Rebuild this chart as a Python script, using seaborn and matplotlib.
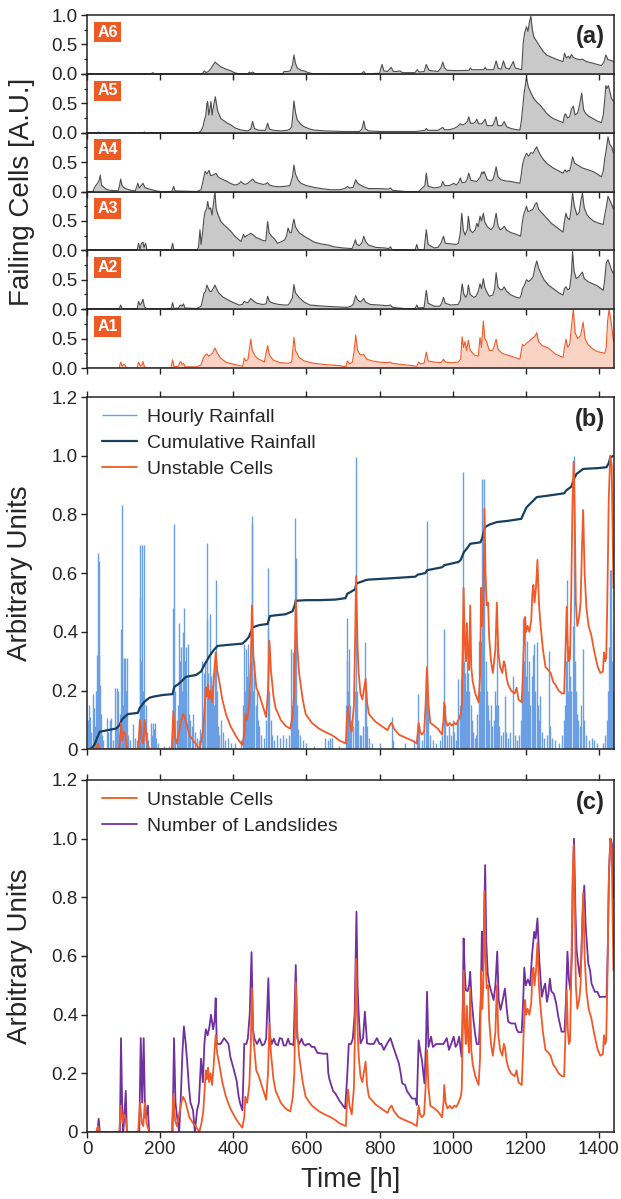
import pandas as pd
import matplotlib
matplotlib.use("Agg")
import matplotlib.pyplot as plt
import seaborn as sns

sns.set_theme(style="ticks")
plt.rcParams['font.family'] = ['Liberation Sans', 'DejaVu Sans']

# ---- data: (time [h], value) ----
a6_pts = [(0,0),(175,0),(180,0.02),(185,0),(315,0),(321,0.05),(326,0.02),(334,0.05),(340,0.1),(350,0.2),(358,0.16),(366,0.12),(380,0.08),(394,0.05),(403,0.02),(415,0),(440,0),(444,0.03),(448,0.01),(453,0.03),(460,0),(535,0),(539,0.04),(548,0.04),(556,0.05),(562,0.15),(566,0.32),(570,0.18),(575,0.1),(585,0.06),(594,0.05),(605,0.02),(616,0.005),(750,0),(757,0.04),(762,0),(800,0.01),(807,0.16),(812,0.05),(822,0.04),(832,0.11),(838,0.04),(847,0.04),(857,0.05),(862,0.02),(897,0.02),(903,0.07),(909,0.03),(922,0.04),(928,0.16),(935,0.06),(945,0.05),(960,0.04),(968,0.1),(973,0.2),(978,0.1),(985,0.06),(1003,0.056),(1020,0.055),(1045,0.06),(1048,0.1),(1053,0.07),(1085,0.07),(1089,0.11),(1093,0.07),(1112,0.07),(1119,0.22),(1125,0.09),(1133,0.08),(1139,0.22),(1145,0.1),(1155,0.08),(1166,0.21),(1171,0.1),(1189,0.07),(1193,0.52),(1197,0.7),(1202,0.8),(1206,0.72),(1210,0.88),(1214,0.98),(1218,0.75),(1222,0.63),(1230,0.55),(1239,0.46),(1248,0.38),(1257,0.32),(1275,0.27),(1295,0.22),(1302,0.21),(1306,0.35),(1311,0.27),(1317,0.3),(1321,0.26),(1325,0.33),(1330,0.28),(1340,0.25),(1350,0.24),(1355,0.25),(1365,0.21),(1384,0.18),(1407,0.14),(1414,0.2),(1419,0.32),(1425,0.24),(1432,0.23),(1440,0.21)]

a5_pts = [(0,0),(27,0),(30,0.01),(34,0),(153,0),(157,0.01),(161,0),(305,0),(312,0.03),(317,0.1),(321,0.21),(325,0.3),(328,0.5),(330,0.53),(333,0.3),(336,0.4),(339,0.53),(342,0.3),(346,0.45),(349,0.55),(351,0.61),(354,0.5),(357,0.38),(366,0.24),(375,0.2),(384,0.16),(394,0.13),(405,0.08),(421,0.045),(440,0.03),(448,0.06),(453,0.19),(458,0.07),(470,0.04),(488,0.04),(494,0.16),(499,0.06),(510,0.04),(530,0.03),(548,0.04),(555,0.06),(560,0.1),(566,0.54),(570,0.35),(575,0.22),(585,0.14),(594,0.1),(610,0.06),(621,0.045),(650,0.03),(700,0.02),(745,0.02),(752,0.06),(757,0.2),(761,0.07),(770,0.03),(800,0.02),(900,0.02),(924,0.04),(928,0.07),(932,0.04),(960,0.04),(973,0.09),(978,0.05),(990,0.05),(1003,0.07),(1012,0.1),(1021,0.15),(1028,0.13),(1036,0.16),(1041,0.2),(1044,0.27),(1049,0.16),(1057,0.16),(1062,0.18),(1066,0.23),(1071,0.15),(1080,0.15),(1086,0.2),(1089,0.23),(1094,0.12),(1110,0.12),(1115,0.2),(1119,0.27),(1124,0.12),(1135,0.12),(1141,0.19),(1148,0.1),(1160,0.07),(1175,0.05),(1184,0.045),(1188,0.2),(1191,0.39),(1196,0.7),(1202,0.93),(1207,0.78),(1214,0.68),(1221,0.59),(1230,0.52),(1239,0.47),(1248,0.4),(1257,0.33),(1266,0.28),(1275,0.24),(1290,0.2),(1302,0.17),(1306,0.3),(1309,0.32),(1314,0.25),(1320,0.27),(1325,0.4),(1330,0.45),(1335,0.3),(1342,0.33),(1348,0.5),(1353,0.67),(1358,0.4),(1362,0.34),(1372,0.28),(1384,0.24),(1395,0.2),(1407,0.17),(1412,0.3),(1416,0.55),(1419,0.8),(1422,0.75),(1426,0.8),(1430,0.7),(1434,0.59),(1440,0.53)]

a4_pts = [(0,0),(16,0),(20,0.06),(25,0.11),(30,0.15),(34,0.2),(36,0.28),(40,0.1),(45,0.08),(50,0.05),(55,0.03),(65,0.02),(85,0.01),(89,0.1),(92,0.21),(96,0.1),(102,0.06),(110,0.04),(120,0.02),(132,0.01),(136,0.08),(139,0.14),(143,0.06),(148,0.1),(153,0.14),(158,0.07),(165,0.05),(178,0.03),(190,0.01),(200,0),(232,0),(237,0.085),(241,0.01),(300,0),(312,0.03),(318,0.2),(323,0.34),(328,0.3),(334,0.36),(338,0.27),(345,0.28),(353,0.31),(358,0.25),(366,0.22),(380,0.18),(392,0.14),(403,0.11),(412,0.12),(417,0.14),(421,0.17),(426,0.14),(432,0.12),(440,0.14),(447,0.18),(453,0.21),(460,0.16),(470,0.14),(482,0.12),(489,0.13),(494,0.15),(499,0.11),(510,0.09),(525,0.08),(545,0.09),(555,0.1),(562,0.25),(566,0.45),(570,0.3),(577,0.2),(585,0.14),(600,0.1),(621,0.07),(640,0.05),(665,0.03),(690,0.03),(705,0.05),(712,0.085),(718,0.06),(728,0.07),(735,0.2),(740,0.14),(748,0.11),(757,0.08),(770,0.05),(800,0.05),(825,0.04),(830,0.06),(836,0.02),(870,0.0),(907,0.0),(924,0.1),(928,0.31),(933,0.09),(950,0.06),(968,0.08),(973,0.17),(978,0.1),(990,0.1),(998,0.12),(1003,0.14),(1010,0.11),(1016,0.15),(1021,0.23),(1026,0.15),(1035,0.16),(1040,0.21),(1044,0.31),(1050,0.19),(1058,0.18),(1066,0.17),(1075,0.24),(1078,0.3),(1080,0.33),(1083,0.3),(1086,0.34),(1090,0.28),(1095,0.2),(1103,0.18),(1110,0.2),(1115,0.3),(1119,0.42),(1124,0.25),(1132,0.2),(1145,0.18),(1160,0.17),(1175,0.15),(1184,0.14),(1188,0.3),(1191,0.45),(1195,0.55),(1202,0.65),(1208,0.6),(1214,0.66),(1220,0.65),(1226,0.72),(1230,0.76),(1235,0.68),(1242,0.6),(1250,0.53),(1257,0.48),(1266,0.44),(1275,0.4),(1290,0.35),(1302,0.31),(1307,0.37),(1312,0.33),(1316,0.36),(1320,0.35),(1324,0.45),(1328,0.59),(1334,0.48),(1342,0.45),(1355,0.4),(1370,0.37),(1384,0.34),(1395,0.3),(1407,0.25),(1412,0.35),(1416,0.56),(1420,0.7),(1425,0.93),(1430,0.8),(1435,0.76),(1440,0.65)]

a3_pts = [(0,0),(137,0),(141,0.12),(145,0.02),(149,0.12),(153,0.14),(156,0.05),(160,0.12),(164,0.01),(230,0),(234,0.12),(238,0),(300,0),(305,0.05),(309,0.35),(312,0.1),(316,0.3),(320,0.55),(323,0.66),(327,0.7),(330,0.83),(334,0.7),(338,0.72),(342,0.6),(346,0.8),(350,1.0),(353,0.72),(357,0.63),(366,0.49),(375,0.43),(384,0.38),(394,0.32),(403,0.25),(412,0.2),(421,0.15),(425,0.22),(428,0.27),(432,0.22),(437,0.25),(443,0.27),(448,0.29),(455,0.26),(462,0.22),(470,0.2),(480,0.17),(489,0.16),(494,0.49),(498,0.3),(505,0.24),(512,0.2),(521,0.12),(533,0.15),(541,0.18),(546,0.25),(550,0.38),(555,0.3),(559,0.3),(563,0.45),(566,0.53),(570,0.4),(580,0.3),(594,0.24),(605,0.2),(621,0.14),(640,0.11),(660,0.09),(675,0.06),(700,0.04),(725,0.03),(730,0.1),(734,0.18),(738,0.1),(745,0.08),(752,0.13),(757,0.24),(762,0.15),(770,0.09),(790,0.05),(815,0.04),(825,0.03),(830,0.06),(835,0),(897,0),(902,0.1),(906,0.01),(922,0.01),(928,0.35),(933,0.1),(950,0.04),(960,0.05),(968,0.12),(975,0.24),(980,0.12),(995,0.11),(1010,0.1),(1016,0.12),(1021,0.3),(1025,0.63),(1029,0.35),(1034,0.26),(1040,0.35),(1043,0.58),(1048,0.34),(1055,0.3),(1062,0.35),(1066,0.46),(1070,0.4),(1075,0.58),(1079,0.5),(1084,0.63),(1088,0.48),(1095,0.4),(1105,0.35),(1112,0.4),(1119,0.63),(1124,0.42),(1130,0.35),(1136,0.37),(1141,0.41),(1148,0.34),(1160,0.3),(1175,0.27),(1186,0.24),(1190,0.45),(1194,0.6),(1202,0.75),(1206,0.66),(1212,0.67),(1220,0.7),(1225,0.78),(1230,0.81),(1235,0.7),(1245,0.63),(1257,0.55),(1270,0.46),(1285,0.39),(1302,0.31),(1306,0.5),(1310,0.63),(1314,0.55),(1320,0.52),(1324,0.7),(1328,0.97),(1333,0.75),(1340,0.6),(1346,0.64),(1351,0.85),(1355,0.97),(1360,0.72),(1368,0.6),(1375,0.55),(1385,0.5),(1400,0.46),(1412,0.44),(1416,0.6),(1420,0.72),(1425,0.92),(1430,0.85),(1435,0.78),(1440,0.7)]

a2_pts = [(0,0),(27,0),(30,0.01),(34,0),(88,0),(92,0.07),(96,0.01),(137,0),(141,0.13),(145,0.07),(149,0.1),(153,0.17),(157,0.04),(163,0.01),(230,0),(234,0.11),(238,0.01),(250,0.02),(254,0.06),(257,0.07),(260,0.05),(264,0.09),(268,0.02),(300,0.01),(312,0.05),(316,0.15),(320,0.27),(324,0.3),(328,0.41),(332,0.35),(336,0.3),(340,0.3),(346,0.36),(350,0.41),(354,0.35),(360,0.28),(371,0.21),(382,0.17),(394,0.13),(405,0.1),(416,0.07),(425,0.08),(430,0.13),(435,0.12),(440,0.11),(448,0.18),(455,0.14),(465,0.1),(480,0.08),(490,0.09),(494,0.22),(499,0.13),(510,0.1),(525,0.08),(540,0.07),(550,0.07),(556,0.12),(562,0.2),(566,0.42),(570,0.28),(580,0.2),(594,0.12),(610,0.07),(630,0.06),(650,0.05),(680,0.04),(712,0.03),(722,0.05),(728,0.08),(735,0.23),(740,0.16),(748,0.12),(757,0.18),(762,0.12),(775,0.08),(800,0.07),(820,0.06),(830,0.07),(836,0.03),(870,0.01),(897,0),(902,0.07),(906,0.02),(922,0.03),(928,0.32),(933,0.1),(950,0.05),(965,0.05),(970,0.1),(975,0.2),(980,0.1),(995,0.07),(1015,0.08),(1021,0.15),(1026,0.43),(1031,0.25),(1036,0.2),(1040,0.25),(1043,0.41),(1048,0.25),(1058,0.2),(1064,0.22),(1070,0.3),(1075,0.43),(1079,0.35),(1084,0.52),(1088,0.37),(1093,0.3),(1100,0.22),(1110,0.24),(1115,0.35),(1119,0.62),(1124,0.38),(1130,0.33),(1136,0.33),(1141,0.38),(1148,0.3),(1160,0.24),(1175,0.2),(1184,0.19),(1188,0.25),(1191,0.35),(1196,0.4),(1202,0.5),(1208,0.47),(1214,0.5),(1220,0.55),(1226,0.73),(1230,0.82),(1235,0.7),(1242,0.6),(1250,0.5),(1262,0.41),(1275,0.35),(1290,0.28),(1302,0.24),(1306,0.35),(1310,0.38),(1315,0.33),(1320,0.35),(1325,0.6),(1328,0.98),(1332,0.65),(1338,0.52),(1345,0.55),(1351,0.6),(1355,0.63),(1360,0.52),(1370,0.47),(1380,0.44),(1395,0.4),(1412,0.32),(1416,0.5),(1420,0.78),(1425,0.84),(1430,0.75),(1435,0.66),(1440,0.6)]

a1_pts = [(0,0),(88,0),(92,0.1),(96,0.03),(100,0.06),(104,0.05),(108,0),(137,0),(141,0.1),(146,0.03),(150,0.05),(153,0.11),(157,0.02),(163,0),(230,0),(234,0.14),(238,0.02),(250,0.03),(254,0.1),(257,0.11),(260,0.06),(264,0.08),(268,0.02),(300,0.02),(312,0.05),(317,0.15),(323,0.22),(328,0.24),(333,0.2),(338,0.22),(343,0.25),(350,0.34),(355,0.27),(365,0.17),(380,0.1),(403,0.06),(426,0.03),(430,0.17),(434,0.12),(440,0.14),(448,0.49),(452,0.3),(460,0.2),(470,0.15),(485,0.1),(494,0.38),(499,0.22),(510,0.13),(530,0.09),(550,0.08),(560,0.1),(566,0.52),(570,0.3),(580,0.18),(594,0.12),(620,0.08),(650,0.06),(690,0.04),(708,0.02),(712,0.12),(718,0.07),(726,0.1),(731,0.3),(735,0.56),(740,0.3),(748,0.22),(757,0.23),(765,0.15),(780,0.12),(800,0.1),(820,0.09),(830,0.1),(835,0.08),(860,0.06),(890,0.04),(902,0.03),(907,0.1),(912,0.07),(922,0.08),(928,0.27),(933,0.12),(950,0.1),(968,0.09),(975,0.15),(980,0.1),(1000,0.09),(1015,0.1),(1022,0.15),(1026,0.53),(1030,0.35),(1034,0.45),(1038,0.3),(1043,0.47),(1048,0.3),(1060,0.22),(1070,0.2),(1075,0.52),(1079,0.35),(1084,0.8),(1088,0.5),(1093,0.45),(1100,0.3),(1110,0.3),(1119,0.49),(1124,0.32),(1135,0.25),(1150,0.22),(1170,0.18),(1184,0.15),(1188,0.3),(1191,0.4),(1196,0.38),(1202,0.42),(1208,0.45),(1214,0.48),(1221,0.52),(1226,0.55),(1230,0.6),(1235,0.45),(1245,0.38),(1262,0.34),(1280,0.24),(1302,0.18),(1306,0.35),(1310,0.49),(1315,0.35),(1320,0.4),(1325,0.7),(1330,1.0),(1335,0.6),(1342,0.5),(1350,0.55),(1357,0.78),(1362,0.5),(1370,0.4),(1380,0.34),(1395,0.28),(1410,0.26),(1416,0.25),(1420,0.35),(1424,0.8),(1428,1.0),(1433,0.8),(1437,0.6),(1440,0.45)]

hourly_rain = [(2,0.1),(5,0.15),(8,0.11),(12,0.06),(16,0.19),(19,0.14),(22,0.08),(25,0.2),(27,0.32),(29,0.32),(30,0.667),(32,0.64),(34,0.32),(36,0.22),(38,0.12),(41,0.05),(45,0.03),(54,0.105),(58,0.06),(62,0.1),(67,0.105),(72,0.03),(76,0.21),(79,0.08),(82,0.21),(85,0.2),(88,0.05),(91,0.12),(94,0.41),(95,0.832),(97,0.31),(99,0.15),(102,0.31),(105,0.31),(107,0.2),(109,0.31),(113,0.05),(118,0.03),(125,0.085),(130,0.04),(136,0.03),(141,0.1),(144,0.52),(145,0.695),(147,0.3),(150,0.695),(152,0.2),(154,0.1),(157,0.695),(160,0.15),(163,0.06),(168,0.03),(175,0.09),(178,0.05),(181,0.09),(184,0.07),(187,0.09),(190,0.04),(195,0.02),(210,0.01),(225,0.01),(233,0.05),(236,0.48),(239,0.767),(242,0.2),(245,0.1),(249,0.15),(252,0.43),(255,0.3),(258,0.35),(260,0.2),(262,0.40),(264,0.48),(267,0.3),(270,0.35),(272,0.2),(275,0.36),(278,0.12),(282,0.1),(286,0.08),(290,0.12),(295,0.06),(300,0.04),(305,0.03),(310,0.07),(314,0.3),(318,0.1),(321,0.26),(324,0.3),(327,0.703),(329,0.44),(331,0.26),(333,0.2),(336,0.46),(338,0.25),(341,0.22),(344,0.26),(347,0.15),(350,0.3),(352,0.576),(355,0.2),(358,0.08),(362,0.05),(367,0.1),(372,0.06),(378,0.03),(385,0.04),(395,0.02),(405,0.02),(420,0.03),(428,0.15),(430,0.36),(432,0.2),(434,0.34),(437,0.25),(440,0.36),(442,0.15),(445,0.2),(448,0.3),(450,0.796),(452,0.767),(455,0.2),(458,0.3),(461,0.15),(464,0.2),(467,0.1),(470,0.08),(475,0.05),(485,0.04),(490,0.1),(494,0.41),(496,0.616),(499,0.2),(502,0.1),(506,0.05),(512,0.03),(520,0.05),(527,0.04),(535,0.05),(545,0.04),(553,0.05),(559,0.34),(561,0.15),(563,0.33),(566,0.2),(568,0.788),(571,0.65),(574,0.15),(578,0.07),(583,0.05),(590,0.03),(600,0.02),(620,0.01),(652,0.04),(658,0.03),(664,0.04),(670,0.04),(690,0.01),(708,0.15),(710,0.3),(712,0.446),(714,0.2),(716,0.34),(719,0.15),(722,0.1),(727,0.08),(733,0.2),(736,0.994),(739,0.2),(742,0.1),(746,0.05),(750,0.05),(755,0.08),(759,0.366),(762,0.2),(765,0.08),(770,0.04),(780,0.02),(800,0.02),(833,0.11),(836,0.03),(870,0.02),(895,0.03),(902,0.05),(905,0.19),(908,0.08),(915,0.03),(922,0.06),(927,0.27),(930,0.777),(933,0.15),(937,0.05),(945,0.03),(955,0.02),(965,0.03),(972,0.05),(976,0.41),(979,0.15),(984,0.05),(990,0.08),(996,0.05),(1000,0.10),(1004,0.06),(1008,0.03),(1012,0.1),(1016,0.24),(1019,0.15),(1022,0.24),(1025,0.2),(1027,0.3),(1029,0.945),(1031,0.3),(1034,0.26),(1037,0.2),(1040,0.3),(1043,0.26),(1046,0.2),(1049,0.15),(1052,0.1),(1056,0.06),(1060,0.04),(1065,0.05),(1068,0.12),(1071,0.37),(1074,0.2),(1077,0.37),(1080,0.922),(1082,0.5),(1084,0.3),(1087,0.922),(1090,0.3),(1093,0.2),(1096,0.15),(1100,0.1),(1104,0.15),(1108,0.08),(1112,0.1),(1116,0.2),(1119,0.15),(1121,0.37),(1124,0.15),(1128,0.08),(1133,0.05),(1138,0.06),(1143,0.18),(1147,0.06),(1152,0.04),(1158,0.06),(1166,0.25),(1170,0.05),(1176,0.03),(1182,0.05),(1186,0.1),(1189,0.2),(1192,0.446),(1195,0.3),(1198,0.454),(1201,0.25),(1203,0.37),(1206,0.2),(1209,0.3),(1212,0.15),(1216,0.25),(1220,0.32),(1223,0.36),(1226,0.2),(1230,0.366),(1233,0.15),(1236,0.1),(1240,0.18),(1244,0.06),(1250,0.04),(1257,0.05),(1263,0.336),(1266,0.08),(1272,0.04),(1280,0.03),(1290,0.02),(1300,0.05),(1304,0.1),(1307,0.15),(1310,0.3),(1313,0.576),(1316,0.2),(1319,0.35),(1322,0.25),(1325,0.2),(1328,0.42),(1331,0.998),(1334,0.3),(1337,0.2),(1340,0.12),(1344,0.1),(1348,0.08),(1352,0.15),(1357,0.34),(1360,0.1),(1365,0.05),(1372,0.03),(1380,0.04),(1386,0.03),(1395,0.02),(1410,0.02),(1418,0.05),(1422,0.1),(1425,0.2),(1428,0.35),(1430,0.61),(1432,0.61),(1434,0.4),(1437,0.3),(1439,0.2)]

cumulative_rain = [(0,0),(7,0.0),(14,0.005),(21,0.017),(28,0.04),(35,0.06),(48,0.063),(80,0.071),(89,0.082),(95,0.1),(98,0.105),(112,0.12),(139,0.124),(144,0.14),(150,0.15),(157,0.162),(170,0.175),(180,0.179),(207,0.185),(234,0.188),(239,0.213),(250,0.222),(257,0.23),(265,0.24),(271,0.247),(298,0.253),(312,0.265),(321,0.288),(328,0.302),(334,0.316),(342,0.33),(348,0.34),(357,0.352),(380,0.355),(425,0.36),(434,0.37),(443,0.383),(450,0.405),(452,0.415),(471,0.423),(494,0.427),(500,0.454),(520,0.457),(543,0.46),(562,0.47),(568,0.49),(571,0.506),(600,0.508),(635,0.508),(680,0.51),(707,0.515),(712,0.53),(720,0.535),(733,0.545),(737,0.565),(762,0.576),(770,0.578),(825,0.582),(898,0.588),(905,0.595),(925,0.6),(930,0.61),(971,0.62),(977,0.627),(1016,0.638),(1022,0.645),(1027,0.66),(1031,0.672),(1040,0.685),(1048,0.7),(1076,0.705),(1081,0.72),(1086,0.745),(1089,0.757),(1100,0.765),(1121,0.774),(1150,0.778),(1188,0.785),(1193,0.8),(1202,0.824),(1215,0.84),(1230,0.859),(1261,0.864),(1305,0.872),(1311,0.882),(1325,0.895),(1331,0.92),(1339,0.938),(1357,0.955),(1400,0.958),(1421,0.961),(1427,0.975),(1431,0.993),(1440,1.0)]

unstable_cells = [(0,0),(25,0),(30,0.02),(34,0),(88,0),(93,0.09),(97,0.03),(101,0.06),(105,0.05),(110,0),(140,0),(145,0.10),(150,0.03),(154,0.02),(158,0.10),(163,0.03),(170,0),(232,0),(236,0.13),(241,0.04),(246,0.02),(252,0.06),(258,0.10),(263,0.12),(270,0.10),(280,0.05),(290,0.03),(297,0.02),(307,0.0),(313,0.03),(318,0.07),(322,0.15),(325,0.21),(328,0.18),(331,0.22),(334,0.17),(338,0.2),(342,0.16),(346,0.22),(349,0.28),(352,0.33),(356,0.27),(362,0.23),(370,0.17),(380,0.12),(392,0.08),(405,0.05),(415,0.03),(425,0.015),(430,0.05),(433,0.12),(438,0.10),(444,0.16),(448,0.3),(451,0.49),(455,0.32),(463,0.21),(470,0.19),(480,0.15),(490,0.11),(495,0.2),(499,0.37),(503,0.27),(510,0.18),(516,0.14),(530,0.10),(543,0.08),(556,0.07),(563,0.12),(567,0.2),(571,0.51),(575,0.35),(580,0.26),(590,0.17),(598,0.12),(615,0.09),(635,0.07),(650,0.06),(667,0.05),(680,0.04),(690,0.03),(708,0.02),(711,0.10),(714,0.145),(718,0.09),(724,0.06),(730,0.15),(733,0.35),(736,0.59),(740,0.35),(743,0.26),(748,0.19),(753,0.17),(758,0.21),(762,0.24),(766,0.16),(771,0.12),(789,0.094),(805,0.08),(816,0.07),(822,0.065),(827,0.08),(833,0.09),(840,0.07),(853,0.05),(870,0.04),(889,0.03),(902,0.02),(905,0.06),(907,0.09),(911,0.06),(916,0.05),(922,0.06),(926,0.15),(930,0.28),(934,0.15),(939,0.09),(950,0.08),(960,0.07),(971,0.05),(975,0.1),(977,0.16),(981,0.1),(986,0.08),(992,0.09),(998,0.08),(1005,0.09),(1010,0.085),(1016,0.10),(1022,0.12),(1025,0.145),(1027,0.3),(1030,0.55),(1033,0.37),(1036,0.30),(1039,0.43),(1042,0.32),(1045,0.27),(1048,0.49),(1051,0.28),(1055,0.23),(1062,0.19),(1068,0.17),(1071,0.16),(1075,0.25),(1078,0.55),(1081,0.42),(1084,0.5),(1087,0.82),(1090,0.6),(1093,0.49),(1097,0.5),(1100,0.38),(1105,0.3),(1110,0.26),(1117,0.34),(1121,0.50),(1125,0.33),(1130,0.28),(1136,0.26),(1140,0.3),(1143,0.29),(1148,0.24),(1152,0.22),(1160,0.2),(1170,0.19),(1175,0.21),(1180,0.17),(1189,0.16),(1192,0.25),(1194,0.33),(1198,0.45),(1201,0.40),(1205,0.42),(1210,0.40),(1215,0.44),(1218,0.53),(1221,0.56),(1224,0.5),(1228,0.55),(1232,0.645),(1236,0.5),(1240,0.43),(1247,0.34),(1254,0.28),(1262,0.27),(1268,0.26),(1275,0.23),(1281,0.22),(1290,0.2),(1299,0.19),(1305,0.19),(1309,0.35),(1312,0.485),(1315,0.35),(1318,0.3),(1321,0.31),(1324,0.5),(1328,0.85),(1331,0.98),(1334,0.8),(1337,0.5),(1341,0.42),(1346,0.45),(1350,0.5),(1354,0.7),(1357,0.815),(1361,0.6),(1366,0.48),(1372,0.42),(1379,0.39),(1388,0.33),(1397,0.28),(1404,0.26),(1411,0.265),(1414,0.33),(1417,0.30),(1420,0.31),(1423,0.5),(1427,0.85),(1431,1.0),(1435,0.97),(1438,0.7),(1440,0.55)]

landslides = [(0,0),(28,0),(32,0.045),(35,0),(90,0),(93,0.32),(96,0.1),(99,0.0),(102,0.05),(106,0.14),(109,0),(143,0),(147,0.32),(151,0.1),(155,0.32),(159,0.05),(163,0.06),(166,0.09),(170,0),(234,0),(238,0.32),(242,0.1),(247,0.045),(252,0),(256,0.1),(261,0.27),(265,0.36),(270,0.3),(274,0.24),(279,0.15),(283,0.1),(290,0.074),(295,0),(301,0.074),(306,0.1),(312,0.25),(317,0.17),(321,0.3),(325,0.35),(330,0.33),(335,0.36),(339,0.40),(345,0.35),(349,0.38),(352,0.456),(355,0.3),(365,0.3),(375,0.32),(387,0.3),(392,0.256),(400,0.22),(409,0.176),(415,0.12),(419,0.097),(425,0.074),(428,0.2),(430,0.3),(436,0.3),(440,0.32),(445,0.4),(450,0.613),(454,0.35),(458,0.318),(465,0.3),(472,0.318),(479,0.295),(485,0.3),(490,0.318),(496,0.524),(500,0.33),(505,0.3),(511,0.318),(516,0.3),(522,0.295),(527,0.32),(533,0.318),(538,0.295),(544,0.295),(550,0.318),(555,0.3),(560,0.3),(565,0.295),(571,0.569),(575,0.32),(580,0.3),(587,0.318),(592,0.3),(598,0.295),(603,0.3),(608,0.3),(615,0.29),(622,0.29),(630,0.27),(645,0.267),(657,0.267),(660,0.2),(663,0.18),(668,0.16),(673,0.14),(680,0.13),(690,0.108),(700,0.09),(706,0.08),(711,0.176),(716,0.3),(722,0.3),(727,0.318),(732,0.4),(737,0.751),(740,0.5),(743,0.405),(748,0.302),(755,0.32),(760,0.41),(766,0.302),(775,0.3),(784,0.3),(793,0.32),(800,0.3),(805,0.3),(812,0.28),(820,0.3),(830,0.32),(839,0.285),(846,0.26),(853,0.234),(858,0.2),(862,0.166),(870,0.16),(875,0.14),(880,0.131),(889,0.114),(898,0.114),(902,0.092),(907,0.313),(912,0.27),(916,0.245),(920,0.2),(923,0.166),(927,0.3),(930,0.478),(934,0.29),(941,0.325),(946,0.29),(955,0.3),(965,0.3),(975,0.3),(984,0.32),(990,0.28),(996,0.3),(1003,0.325),(1008,0.29),(1013,0.3),(1018,0.325),(1022,0.28),(1025,0.256),(1028,0.45),(1030,0.66),(1033,0.55),(1036,0.484),(1041,0.48),(1045,0.5),(1048,0.546),(1052,0.45),(1057,0.382),(1062,0.33),(1066,0.3),(1072,0.3),(1077,0.45),(1080,0.683),(1083,0.55),(1086,0.7),(1089,0.91),(1092,0.65),(1096,0.54),(1101,0.5),(1107,0.473),(1112,0.45),(1117,0.5),(1122,0.615),(1126,0.45),(1131,0.416),(1137,0.45),(1143,0.489),(1148,0.42),(1152,0.376),(1160,0.37),(1171,0.37),(1175,0.35),(1180,0.34),(1189,0.34),(1193,0.45),(1196,0.56),(1200,0.5),(1206,0.52),(1212,0.5),(1217,0.6),(1223,0.683),(1227,0.66),(1232,0.728),(1237,0.586),(1244,0.461),(1249,0.49),(1253,0.506),(1258,0.444),(1262,0.47),(1266,0.523),(1270,0.48),(1277,0.47),(1283,0.44),(1289,0.393),(1298,0.342),(1306,0.342),(1310,0.45),(1314,0.615),(1318,0.52),(1322,0.484),(1326,0.6),(1329,0.85),(1332,1.0),(1336,0.75),(1339,0.62),(1343,0.575),(1348,0.53),(1352,0.6),(1356,0.75),(1360,0.84),(1364,0.7),(1371,0.575),(1376,0.55),(1380,0.506),(1389,0.478),(1396,0.478),(1402,0.46),(1410,0.461),(1421,0.461),(1424,0.6),(1428,0.9),(1432,1.0),(1436,0.98),(1440,0.8)]

area_names = ["A6", "A5", "A4", "A3", "A2", "A1"]
area_series = [a6_pts, a5_pts, a4_pts, a3_pts, a2_pts, a1_pts]
x_ticks = [0, 200, 400, 600, 800, 1000, 1200, 1400]
yticks_ab = [0, 0.2, 0.4, 0.6, 0.8, 1.0, 1.2]
yticklabels_ab = ["0", "0.2", "0.4", "0.6", "0.8", "1.0", "1.2"]

ORANGE = "#f05a28"
BLUE = "#6a9fe6"
NAVY = "#173f5f"
PURPLE = "#7030a0"
GRAY_LINE = "#4d4d4d"
GRAY_FILL = "#c9c9c9"
PINK_FILL = "#fbd3c4"


def to_df(pts):
    return pd.DataFrame(pts, columns=["t", "v"])


def style_axis(ax):
    for s in ax.spines.values():
        s.set_linewidth(1.1)
        s.set_color("#222222")
        s.set_visible(True)
    ax.tick_params(which="major", direction="out", length=4.5, width=1.0,
                   pad=2, labelsize=13.5, color="#222222")
    ax.tick_params(which="minor", direction="out", length=2.5, width=0.9,
                   color="#222222")
    ax.set_xlim(0, 1440)
    ax.set_xlabel("")
    ax.set_ylabel("")
    ax.patch.set_visible(False)


W_PX, H_PX = 621, 1199
fig = plt.figure(figsize=(W_PX / 100, H_PX / 100), dpi=100)
left = 87 / W_PX
width = (613.5 - 87) / W_PX

# ---- panel (a): six stacked area panels, drawn bottom-up so ticks overlay ----
top_a, bot_a = 15, 368
h_px = (bot_a - top_a) / 6
for i in reversed(range(6)):
    name, pts = area_names[i], area_series[i]
    py_bottom = top_a + (i + 1) * h_px
    ax = fig.add_axes([left, 1 - py_bottom / H_PX, width, h_px / H_PX])
    d = to_df(pts)
    is_a1 = name == "A1"
    lc = ORANGE if is_a1 else GRAY_LINE
    fc = PINK_FILL if is_a1 else GRAY_FILL
    ax.fill_between(d["t"], 0, d["v"], color=fc, lw=0)
    sns.lineplot(data=d, x="t", y="v", ax=ax, color=lc, lw=0.8)
    style_axis(ax)
    ax.set_ylim(0, 1)
    ax.set_yticks([0, 0.5, 1.0])
    ax.set_yticklabels(["0.0", "0.5", "1.0" if name == "A6" else ""])
    ax.set_yticks([0.25, 0.75], minor=True)
    ax.set_xticks(x_ticks)
    ax.tick_params(axis="x", labelbottom=False)
    ax.text(0.039, 0.71, name, transform=ax.transAxes, ha="center", va="center",
            fontsize=11.5, fontweight="bold", color="white",
            bbox=dict(boxstyle="square,pad=0.18", fc="#ee5a24", ec="none"))
    if name == "A6":
        ax.text(0.984, 0.64, "(a)", transform=ax.transAxes, ha="right",
                va="center", fontsize=17, fontweight="bold")

fig.text(22 / W_PX, 1 - ((top_a + bot_a) / 2) / H_PX, "Failing Cells [A.U.]",
         rotation=90, ha="center", va="center", fontsize=20)

# ---- panel (b) ----
ax_b = fig.add_axes([left, 1 - 749.3 / H_PX, width, 352.3 / H_PX])
rain = to_df(hourly_rain)
ax_b.vlines(rain["t"], 0, rain["v"], color=BLUE, lw=1.0, label="Hourly Rainfall")
sns.lineplot(data=to_df(cumulative_rain), x="t", y="v", ax=ax_b, color=NAVY,
             lw=1.6, label="Cumulative Rainfall")
sns.lineplot(data=to_df(unstable_cells), x="t", y="v", ax=ax_b, color=ORANGE,
             lw=1.3, label="Unstable Cells")
style_axis(ax_b)
ax_b.set_ylim(0, 1.2)
ax_b.set_yticks(yticks_ab)
ax_b.set_yticklabels(yticklabels_ab)
ax_b.set_xticks(x_ticks)
ax_b.tick_params(axis="x", top=True, labelbottom=False)
ax_b.set_ylabel("Arbitrary Units", fontsize=20)
ax_b.yaxis.set_label_coords(-0.1026, 0.5)
ax_b.legend(loc="upper left", bbox_to_anchor=(0.007, 1.0), frameon=False,
            fontsize=14, handlelength=1.8, handletextpad=0.5,
            labelspacing=0.42, borderaxespad=0.2)
ax_b.text(0.984, 0.935, "(b)", transform=ax_b.transAxes, ha="right",
          va="center", fontsize=17, fontweight="bold")

# ---- panel (c) ----
ax_c = fig.add_axes([left, 1 - 1132 / H_PX, width, 352 / H_PX])
sns.lineplot(data=to_df(landslides), x="t", y="v", ax=ax_c, color=PURPLE,
             lw=1.3, label="Number of Landslides")
sns.lineplot(data=to_df(unstable_cells), x="t", y="v", ax=ax_c, color=ORANGE,
             lw=1.3, label="Unstable Cells")
style_axis(ax_c)
ax_c.set_ylim(0, 1.2)
ax_c.set_yticks(yticks_ab)
ax_c.set_yticklabels(yticklabels_ab)
ax_c.set_xticks(x_ticks)
ax_c.tick_params(axis="x", top=True)
ax_c.set_ylabel("Arbitrary Units", fontsize=20)
ax_c.yaxis.set_label_coords(-0.1026, 0.5)
ax_c.set_xlabel("Time [h]", fontsize=20)
ax_c.xaxis.set_label_coords(0.5, -0.1)
h, l = ax_c.get_legend_handles_labels()
ax_c.legend([h[1], h[0]], [l[1], l[0]], loc="upper left",
            bbox_to_anchor=(0.007, 1.0), frameon=False, fontsize=14,
            handlelength=1.8, handletextpad=0.5, labelspacing=0.42,
            borderaxespad=0.2)
ax_c.text(0.984, 0.9375, "(c)", transform=ax_c.transAxes, ha="right",
          va="center", fontsize=17, fontweight="bold")

fig.savefig("out.png", dpi=100, facecolor="white")
